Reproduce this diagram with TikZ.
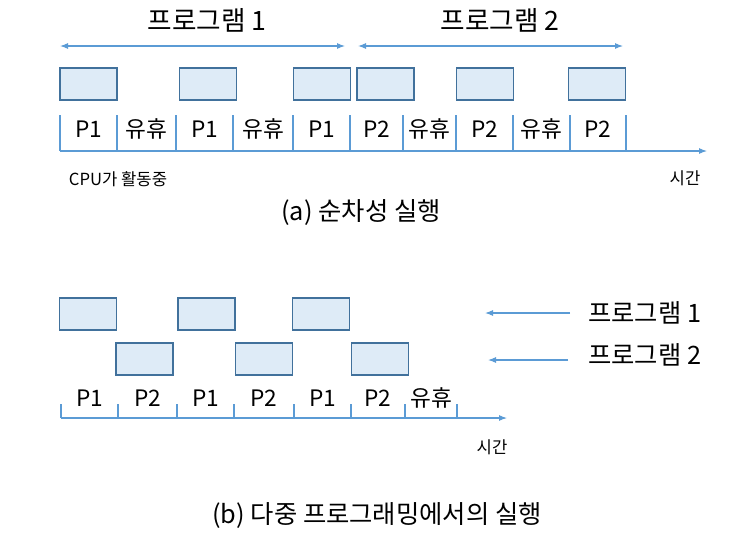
\documentclass[tikz,border=0pt]{standalone}
\usepackage{fontspec}
\setmainfont{Noto Sans CJK KR}
\usetikzlibrary{arrows.meta,positioning}

\definecolor{boxfill}{RGB}{222,235,247}
\definecolor{boxline}{RGB}{65,113,156}
\definecolor{linecol}{RGB}{91,155,213}

\tikzset{
  job/.style={draw=boxline, fill=boxfill, line width=1pt, minimum width=42.75pt, minimum height=24pt, inner sep=0pt},
  tline/.style={draw=linecol, line width=0.8pt},
  arr/.style={tline, -{Latex[length=6pt,width=4.5pt]}},
  darr/.style={tline, {Latex[length=6pt,width=4.5pt]}-{Latex[length=6pt,width=4.5pt]}},
  cell/.style={font=\fontsize{17}{19}\selectfont, inner sep=0pt},
  title/.style={font=\fontsize{19}{22}\selectfont, inner sep=0pt},
  small/.style={font=\fontsize{12.5}{14}\selectfont, inner sep=0pt}
}

\begin{document}
\begin{tikzpicture}[x=0.75pt, y=-0.75pt]
        \useasboundingbox (0,0) rectangle (738,546);

        % (a) sequential
        \node [title, font=\fontsize{20}{22}\selectfont] (t1) at (207,20) {프로그램 1};
        \node [title, font=\fontsize{20}{22}\selectfont] (t2) at (500,20) {프로그램 2};
        \coordinate (p1s) at (60,46);
        \coordinate (p1e) at (345,46);
        \coordinate (p2s) at (358,46);
        \coordinate (p2e) at (623,46);
        \draw[darr] (p1s) -- (p1e);
        \draw[darr] (p2s) -- (p2e);

        \foreach \x [count=\i] in {88.5,208,322,385.5,485,597}
          \node [job] (a\i) at (\x,84) {};

        \foreach \a/\b/\t [count=\i] in {60/117/P1, 117/176/유휴, 176/233/P1, 233/293/유휴, 293/350/P1,
                                          350/403/P2, 403/456/유휴, 456/513/P2, 513/570/유휴, 570/626/P2}
        {
          \node [cell] (ac\i) at ({(\a+\b)/2},129) {\t};
          \draw[tline] (\a,115) -- (\a,151);
        }
        \draw[tline] (626,115) -- (626,151);
        \coordinate (ax0) at (60,151);
        \coordinate (ax1) at (707,151);
        \draw[arr] (ax0) -- (ax1);

        \node [small] (cpu) at (118,179) {CPU가 활동중};
        \node [small] (ta) at (685,178) {시간};
        \node [title] (capa) at (361,213) {(a) 순차성 실행};

        % (b) multiprogramming
        \foreach \x [count=\i] in {88,206.5,321}
          \node [job] (b\i) at (\x,314) {};
        \foreach \x [count=\i] in {144.5,264,380}
          \node [job] (c\i) at (\x,359) {};

        \foreach \a/\b/\t [count=\i] in {61/118/P1, 118/177/P2, 177/234/P1, 234/294/P2,
                                          294/351/P1, 351/405/P2, 405/457/유휴}
        {
          \node [cell] (bc\i) at ({(\a+\b)/2},398) {\t};
          \draw[tline] (\a,404) -- (\a,418);
        }
        \draw[tline] (457,404) -- (457,418);
        \coordinate (bx0) at (61,418);
        \coordinate (bx1) at (507,418);
        \draw[arr] (bx0) -- (bx1);
        \node [small] (tb) at (492,447) {시간};

        \node [title, anchor=west] (l1) at (588,313) {프로그램 1};
        \node [title, anchor=west] (l2) at (588,355) {프로그램 2};
        \coordinate (e1) at (485,313);
        \coordinate (e2) at (488,360);
        \draw[arr] (l1.west) ++(-18,0) -- (e1);
        \draw[arr] ([xshift=-15pt]l2.west |- e2) -- (e2);

        \node [title] (capb) at (377,515) {(b) 다중 프로그래밍에서의 실행};
      \end{tikzpicture}
\end{document}
